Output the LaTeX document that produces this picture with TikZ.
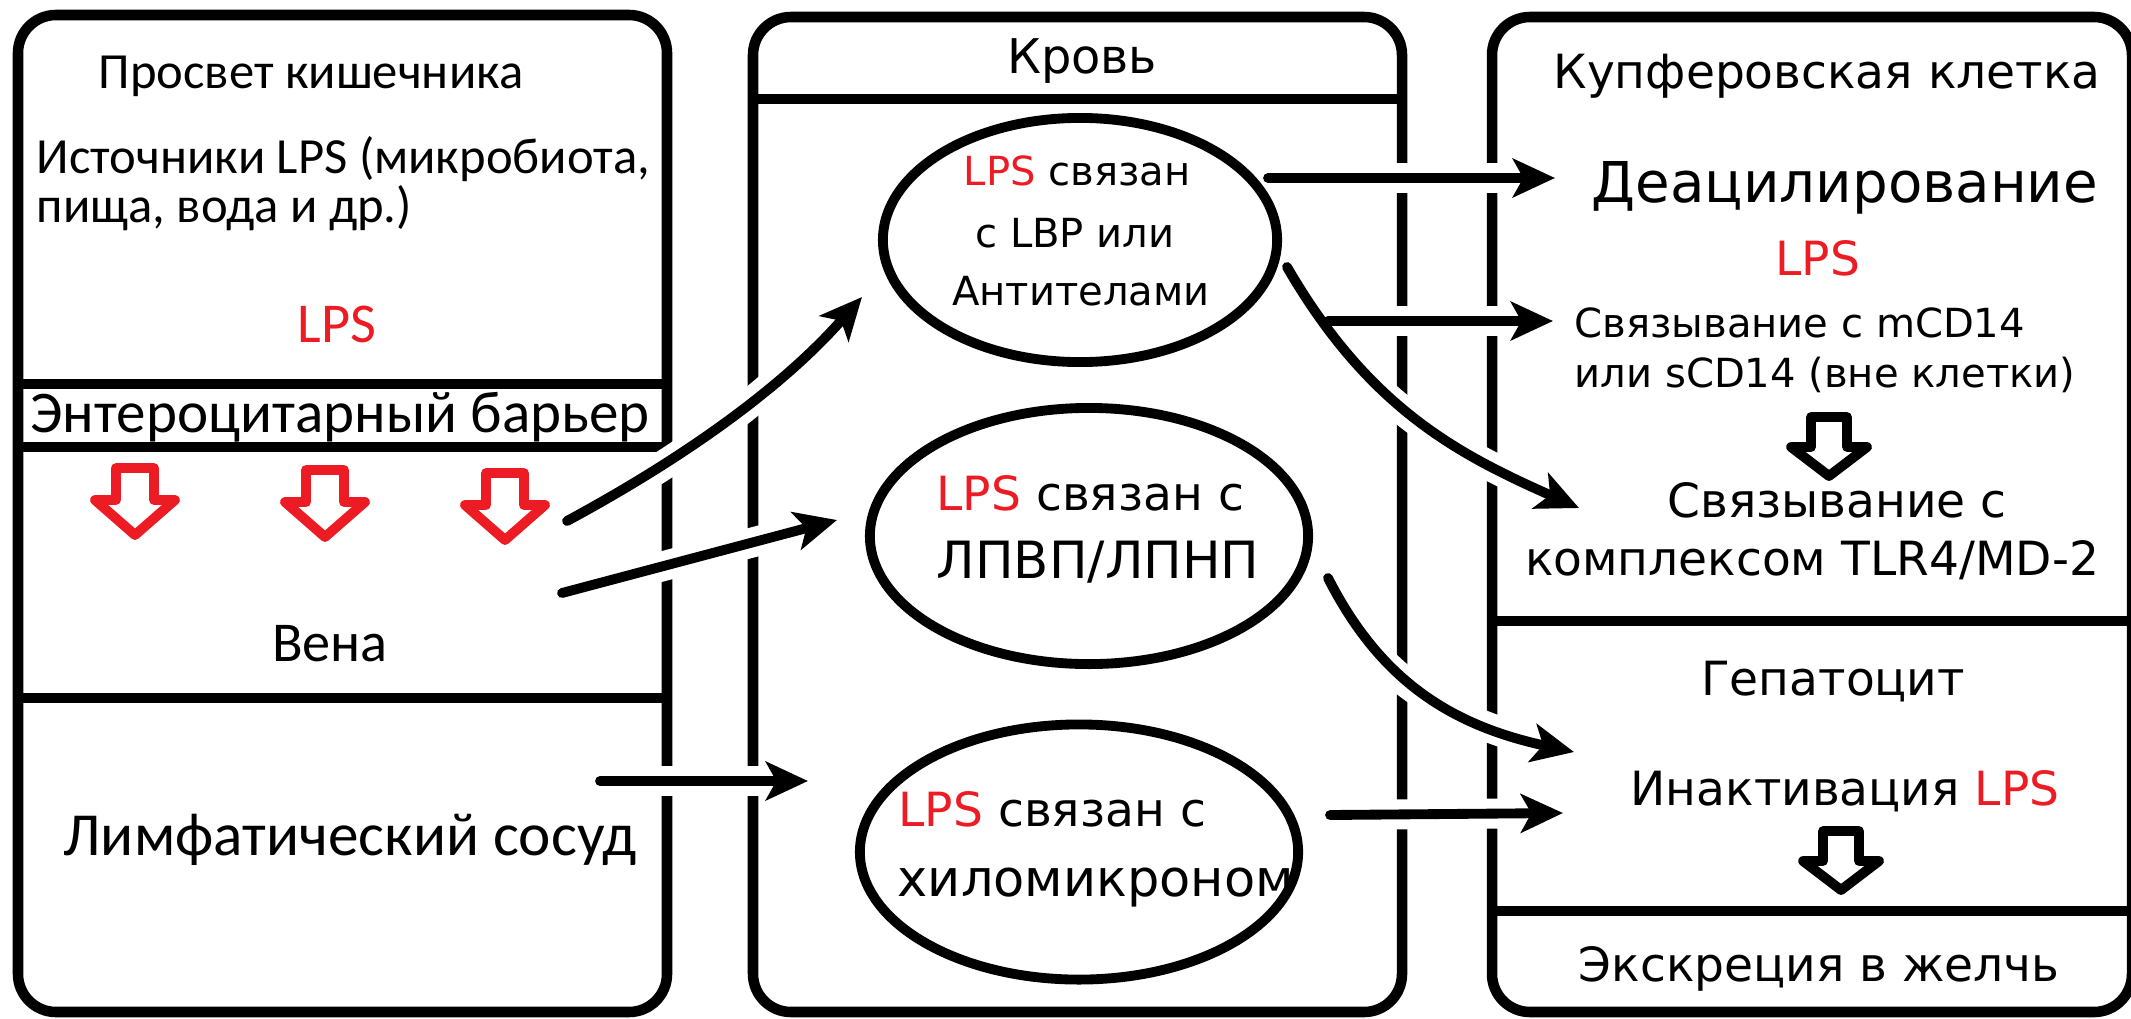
\documentclass[tikz,border=0pt]{standalone}
\usepackage{fontspec}
\setmainfont{DejaVu Sans}
\newfontfamily\calib{Carlito}
\usetikzlibrary{arrows.meta,shapes.geometric}
\definecolor{lpsred}{RGB}{237,28,36}

\tikzset{
  panel/.style={draw,line width=3pt,rounded corners=0.38cm},
  split/.style={line width=2.7pt},
  oval/.style={draw,ellipse,line width=2.8pt,inner sep=0pt},
  lpsflow/.style={line width=2.8pt,-{Stealth[length=12pt,width=11pt,inset=3pt]},
    preaction={draw=white,-,line width=8.5pt,shorten <=8pt}},
  gut/.style={inner sep=0pt,font=\calib\fontsize{14.4}{17}\selectfont},
  gutbig/.style={inner sep=0pt,font=\calib\fontsize{16.8}{20}\selectfont},
  txt/.style={inner sep=0pt,font=\fontsize{13.4}{16}\selectfont},
  small/.style={inner sep=0pt,font=\fontsize{11.4}{14}\selectfont},
}

\begin{document}
\begin{tikzpicture}[x=0.01cm,y=-0.01cm,line cap=round]
\useasboundingbox (0,0) rectangle (2131,1018);

% three panels
\draw[panel] (18,15) rectangle (667,1012);
\draw[panel] (753,17) rectangle (1402,1012);
\draw[panel] (1492,17) rectangle (2132,1012);
\draw[split] (18,384) -- (667,384);
\draw[split] (18,447) -- (667,447);
\draw[split] (18,698) -- (667,698);
\draw[split] (753,99) -- (1402,99);
\draw[split] (1492,621) -- (2132,621);
\draw[split] (1492,911) -- (2132,911);

% gut
\node[gut,anchor=base] (lumen) at (311,88) {Просвет кишечника};
\node[gut,anchor=base west] (src1) at (36,173) {Источники LPS (микробиота,};
\node[gut,anchor=base west] (src2) at (36,222) {пища, вода и др.)};
\node[gutbig,lpsred,font=\calib\fontsize{16}{18}\selectfont,anchor=base] (lps1) at (337,342) {LPS};
\node[gutbig,anchor=base] (barrier) at (340,432) {Энтероцитарный барьер};
\node[gutbig,font=\calib\fontsize{16}{18}\selectfont,anchor=base] (vein) at (330,661) {Вена};
\node[gutbig,font=\calib\fontsize{17.4}{20}\selectfont,anchor=base] (lymph) at (350,855) {Лимфатический сосуд};

\foreach \cx/\ty in {135/463,325/465,505/468}
  \draw[lpsred,line width=2.8pt,line join=round,fill=white]
    (\cx-19,\ty+5) -- (\cx+19,\ty+5) -- (\cx+19,\ty+37) -- (\cx+40,\ty+37)
    -- (\cx,\ty+72) -- (\cx-40,\ty+37) -- (\cx-19,\ty+37) -- cycle;

% blood
\node[txt,font=\fontsize{13.6}{16}\selectfont,anchor=base] (blood) at (1082,73) {Кровь};
\node[oval,minimum width=3.94cm,minimum height=2.44cm] (e1) at (1080,240) {};
\node[oval,minimum width=4.38cm,minimum height=2.56cm] (e2) at (1089,536) {};
\node[oval,minimum width=4.38cm,minimum height=2.55cm] (e3) at (1079,852) {};
\node[small,anchor=base] (e1a) at (1077,185) {\textcolor{lpsred}{LPS} связан};
\node[small,anchor=base] (e1b) at (1075,247) {с LBP или};
\node[small,anchor=base] (e1c) at (1081,305) {Антителами};
\node[txt,anchor=base west] (e2a) at (936,510) {\textcolor{lpsred}{LPS} связан с};
\node[txt,font=\fontsize{14.6}{17}\selectfont,anchor=base west] (e2b) at (936,578) {ЛПВП/ЛПНП};
\node[txt,anchor=base west] (e3a) at (898,826) {\textcolor{lpsred}{LPS} связан с};
\node[txt,font=\fontsize{14.5}{17}\selectfont,anchor=base west] (e3b) at (897,896) {хиломикроном};

% liver
\node[txt,anchor=base] (kupffer) at (1827,88) {Купферовская клетка};
\node[txt,font=\fontsize{16}{18}\selectfont,anchor=base] (deacyl) at (1845,202) {Деацилирование};
\node[txt,lpsred,anchor=base] (lps2) at (1818,275) {LPS};
\node[small,anchor=base west] (cd14a) at (1574,337) {Связывание с mCD14};
\node[small,anchor=base west] (cd14b) at (1574,387) {или sCD14 (вне клетки)};
\node[txt,anchor=base] (tlr1) at (1837,517) {Связывание с};
\node[txt,anchor=base] (tlr2) at (1812,575) {комплексом TLR4/MD-2};
\node[txt,anchor=base] (hepat) at (1833,695) {Гепатоцит};
\node[txt,anchor=base] (inact) at (1845,805) {Инактивация \textcolor{lpsred}{LPS}};
\node[txt,anchor=base] (bile) at (1819,981) {Экскреция в желчь};

\foreach \cx/\ty in {1829/412,1841/826}
  \draw[line width=2.8pt,line join=round,fill=white]
    (\cx-18,\ty+5) -- (\cx+18,\ty+5) -- (\cx+18,\ty+35) -- (\cx+38,\ty+35)
    -- (\cx,\ty+64) -- (\cx-38,\ty+35) -- (\cx-18,\ty+35) -- cycle;

% arrow ends
\coordinate (vein1) at (567,521);
\coordinate (vein2) at (562,593);
\coordinate (lymphout) at (600,781);
\coordinate (e1in) at (862,297);
\coordinate (e2in) at (837,520);
\coordinate (e3in) at (808,781);
\coordinate (e1out) at (1268,178);
\coordinate (e1low) at (1287,267);
\coordinate (fork) at (1328,321);
\coordinate (e2out) at (1328,578);
\coordinate (e3out) at (1330,815);
\coordinate (deacylin) at (1555,178);
\coordinate (cd14in) at (1553,321);
\coordinate (tlrin) at (1579,508);
\coordinate (inactin) at (1574,752);
\coordinate (inactin2) at (1563,813);

\draw[lpsflow] (vein1) .. controls (680,460) and (780,390) .. (e1in);
\draw[lpsflow] (vein2) -- (e2in);
\draw[lpsflow] (lymphout) -- (e3in);
\draw[lpsflow] (e1out) -- (deacylin);
\draw[lpsflow] (e1low) .. controls (1370,410) and (1460,455) .. (tlrin);
\draw[lpsflow] (fork) -- (cd14in);
\draw[lpsflow] (e2out) .. controls (1380,680) and (1450,725) .. (inactin);
\draw[lpsflow] (e3out) -- (inactin2);
\end{tikzpicture}
\end{document}
